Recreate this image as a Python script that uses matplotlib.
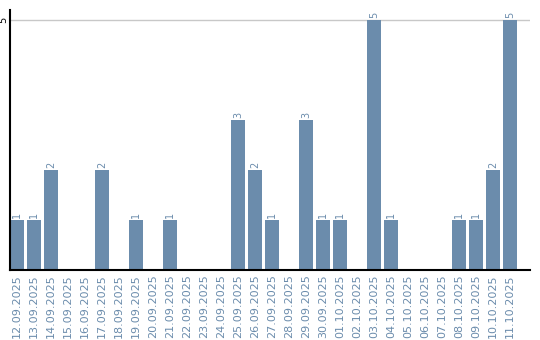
import matplotlib
matplotlib.use("Agg")
import matplotlib.pyplot as plt

dates = ["12.09.2025", "13.09.2025", "14.09.2025", "15.09.2025", "16.09.2025",
         "17.09.2025", "18.09.2025", "19.09.2025", "20.09.2025", "21.09.2025",
         "22.09.2025", "23.09.2025", "24.09.2025", "25.09.2025", "26.09.2025",
         "27.09.2025", "28.09.2025", "29.09.2025", "30.09.2025", "01.10.2025",
         "02.10.2025", "03.10.2025", "04.10.2025", "05.10.2025", "06.10.2025",
         "07.10.2025", "08.10.2025", "09.10.2025", "10.10.2025", "11.10.2025"]
counts = [1, 1, 2, 0, 0, 2, 0, 1, 0, 1,
          0, 0, 0, 3, 2, 1, 0, 3, 1, 1,
          0, 5, 1, 0, 0, 0, 1, 1, 2, 5]

bar_color = "#6b8cac"
text_color = "#6b8cac"

fig = plt.figure(figsize=(5.4, 3.4), dpi=100)
ax = fig.add_axes([10 / 540, 70 / 340, 520 / 540, 260 / 340])

x = list(range(len(dates)))
ax.bar(x, counts, width=14 / 17, align="edge", color=bar_color, zorder=2)

for xi, v in zip(x, counts):
    if v > 0:
        ax.text(xi + 7 / 17, v + 0.05, str(v), rotation=90, ha="center", va="bottom",
                color=text_color, fontsize=7)

ax.set_xlim(0, 520 / 17)
ax.set_ylim(0, 5.2)
ax.set_yticks([5])
ax.set_yticklabels(["5"], rotation=90, va="center", fontsize=7)
ax.axhline(5, color="#c8c8c8", lw=1, zorder=1)

ax.set_xticks([xi + 7 / 17 for xi in x])
ax.set_xticklabels(dates, rotation=90, color=text_color, fontsize=8)
ax.tick_params(axis="x", length=0, pad=3)
ax.tick_params(axis="y", length=0, pad=1)

for side in ["top", "right"]:
    ax.spines[side].set_visible(False)
ax.spines["left"].set_linewidth(1.5)
ax.spines["bottom"].set_linewidth(1.5)

fig.savefig("out.png", dpi=100)
